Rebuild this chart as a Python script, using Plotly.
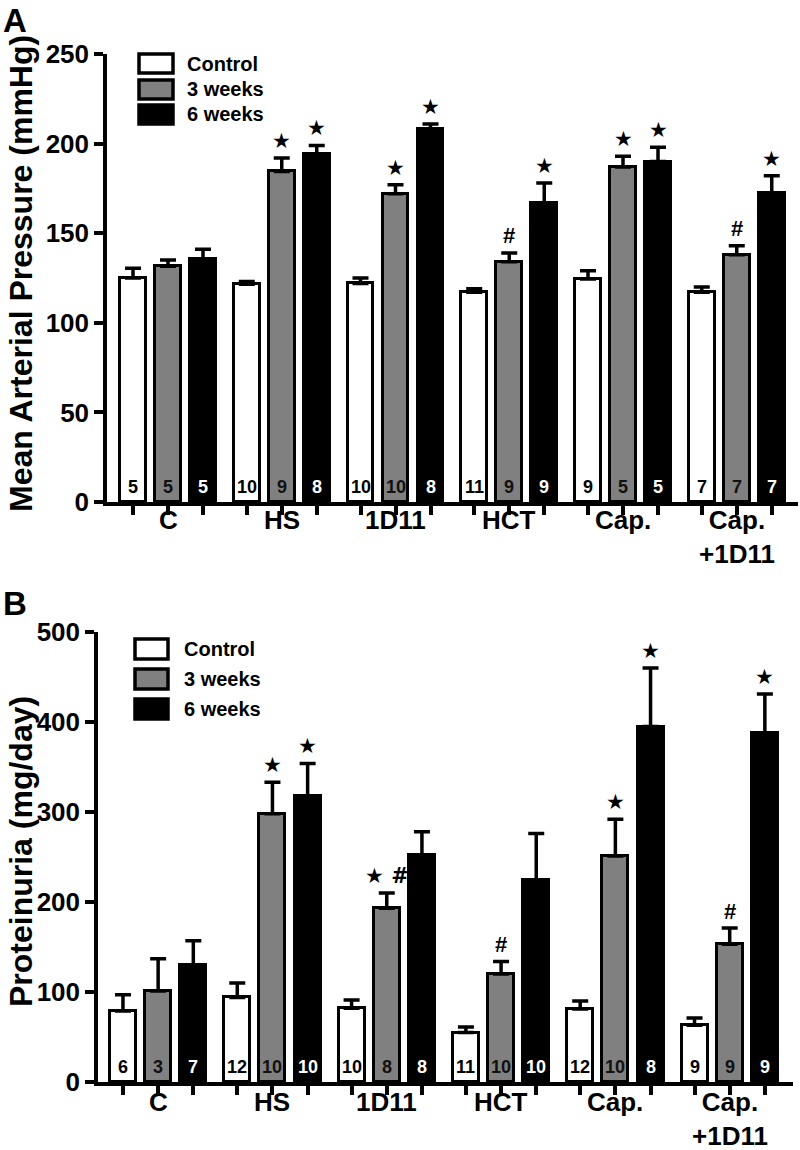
import plotly.graph_objects as go

# ---------------- data ----------------
groups = ["C", "HS", "1D11", "HCT", "Cap.", "Cap.<br>+1D11"]
series = ["Control", "3 weeks", "6 weeks"]

# Panel A: Mean arterial pressure (mmHg)
map_control = [125, 121.5, 122, 117, 124.5, 117]
map_3wk = [131.5, 184.5, 172, 134, 187, 138]
map_6wk = [135.5, 194, 208, 167, 190, 172.5]
map_control_err = [5.5, 1.5, 3, 2, 4.5, 3]
map_3wk_err = [3.5, 7.5, 5, 5, 6, 5]
map_6wk_err = [5.5, 5, 3, 11, 8, 9.5]
map_n_control = [5, 10, 10, 11, 9, 7]
map_n_3wk = [5, 9, 10, 9, 5, 7]
map_n_6wk = [5, 8, 8, 9, 5, 7]
map_sig_control = ["", "", "", "", "", ""]
map_sig_3wk = ["", "★", "★", "#", "★", "#"]
map_sig_6wk = ["", "★", "★", "★", "★", "★"]

# Panel B: Proteinuria (mg/day)
prot_control = [79, 94, 82, 55, 81, 63]
prot_3wk = [101, 298, 193, 120, 251, 153]
prot_6wk = [130, 318, 252, 224, 395, 388]
prot_control_err = [18, 16, 9, 6, 9, 8]
prot_3wk_err = [36, 35, 17, 14, 41, 18]
prot_6wk_err = [27, 36, 26, 52, 65, 43]
prot_n_control = [6, 12, 10, 11, 12, 9]
prot_n_3wk = [3, 10, 8, 10, 10, 9]
prot_n_6wk = [7, 10, 8, 10, 8, 9]
prot_sig_control = ["", "", "", "", "", ""]
prot_sig_3wk = ["", "★", "★ #", "#", "★", "#"]
prot_sig_6wk = ["", "★", "", "", "★", "★"]

map_ticks = [0, 50, 100, 150, 200, 250]
prot_ticks = [0, 100, 200, 300, 400, 500]

# ---------------- style ----------------
FONT = "Liberation Sans, Arial, sans-serif"
STAR_FONT = "DejaVu Sans, Liberation Sans, sans-serif"
fill_colors = ["#ffffff", "#808080", "#000000"]
n_colors = ["#000000", "#111111", "#ffffff"]
GROUP_STEP = 3.25
BAR_W = 0.74
W, H = 800, 1150


def xpos(g, j):
    return g * GROUP_STEP + j


def py(pix):
    return 1 - pix / H


fig = go.Figure()

panels = [
    dict(xa="x", ya="y",
         means=[map_control, map_3wk, map_6wk],
         errs=[map_control_err, map_3wk_err, map_6wk_err],
         ns=[map_n_control, map_n_3wk, map_n_6wk],
         sigs=[map_sig_control, map_sig_3wk, map_sig_6wk]),
    dict(xa="x2", ya="y2",
         means=[prot_control, prot_3wk, prot_6wk],
         errs=[prot_control_err, prot_3wk_err, prot_6wk_err],
         ns=[prot_n_control, prot_n_3wk, prot_n_6wk],
         sigs=[prot_sig_control, prot_sig_3wk, prot_sig_6wk]),
]

annotations = []
for p in panels:
    for j, s in enumerate(series):
        xs = [xpos(g, j) for g in range(len(groups))]
        fig.add_trace(go.Bar(
            x=xs, y=p["means"][j], width=BAR_W, name=s,
            marker=dict(color=fill_colors[j], line=dict(color="black", width=3)),
            error_y=dict(type="data", symmetric=False, array=p["errs"][j],
                         arrayminus=[0] * len(xs), color="black",
                         thickness=3.5, width=8),
            xaxis=p["xa"], yaxis=p["ya"], showlegend=False,
        ))
        for g in range(len(groups)):
            annotations.append(dict(
                x=xs[g], y=0, xref=p["xa"], yref=p["ya"],
                text=str(p["ns"][j][g]), showarrow=False,
                yanchor="bottom", yshift=3,
                font=dict(family=FONT, size=18, color=n_colors[j], weight="bold")))
            sig = p["sigs"][j][g]
            if sig:
                top = p["means"][j][g] + p["errs"][j][g]
                is_hash = sig == "#"
                annotations.append(dict(
                    x=xs[g], y=top, xref=p["xa"], yref=p["ya"],
                    text=sig, showarrow=False, yanchor="middle",
                    yshift=17,
                    font=dict(family=FONT if is_hash else STAR_FONT,
                              size=22 if is_hash else 21,
                              color="black", weight="bold")))

axis_common = dict(showline=True, linecolor="black", linewidth=3.5,
                   ticks="outside", tickcolor="black", tickwidth=3.5, ticklen=9,
                   showgrid=False, zeroline=False, automargin=False)

fig.update_layout(
    width=W, height=H, margin=dict(l=0, r=0, t=0, b=0, pad=0, autoexpand=False),
    paper_bgcolor="white", plot_bgcolor="white",
    barmode="overlay", bargap=0, showlegend=False,
    xaxis=dict(domain=[107 / W, 798 / W], range=[-0.743, 19.0], anchor="y",
               tickvals=[xpos(g, j) for g in range(6) for j in range(3)],
               showticklabels=False, **axis_common),
    yaxis=dict(domain=[py(502), py(54)], range=[0, 250], anchor="x",
               tickvals=map_ticks,
               tickfont=dict(family=FONT, size=26, color="black", weight="bold"),
               **axis_common),
    xaxis2=dict(domain=[98 / W, 793 / W], range=[-0.71, 19.05], anchor="y2",
                tickvals=[xpos(g, j) for g in range(6) for j in range(3)],
                showticklabels=False, **axis_common),
    yaxis2=dict(domain=[py(1082), py(632)], range=[0, 500], anchor="x2",
                tickvals=prot_ticks,
                tickfont=dict(family=FONT, size=26, color="black", weight="bold"),
                **axis_common),
)

# group labels
for g, name in enumerate(groups):
    annotations.append(dict(x=xpos(g, 1), y=py(503), xref="x", yref="paper",
                            text=name, showarrow=False, yanchor="top",
                            font=dict(family=FONT, size=26, color="black", weight="bold")))
    annotations.append(dict(x=xpos(g, 1), y=py(1085), xref="x2", yref="paper",
                            text=name, showarrow=False, yanchor="top",
                            font=dict(family=FONT, size=26, color="black", weight="bold")))

# axis titles
annotations.append(dict(x=21 / W, y=py(274), xref="paper", yref="paper",
                        text="Mean Arterial Pressure (mmHg)", textangle=-90,
                        showarrow=False, xanchor="center", yanchor="middle",
                        font=dict(family=FONT, size=32, color="black", weight="bold")))
annotations.append(dict(x=21 / W, y=py(852), xref="paper", yref="paper",
                        text="Proteinuria (mg/day)", textangle=-90,
                        showarrow=False, xanchor="center", yanchor="middle",
                        font=dict(family=FONT, size=32, color="black", weight="bold")))

# panel letters
annotations.append(dict(x=1 / W, y=py(0), xref="paper", yref="paper", text="A",
                        showarrow=False, xanchor="left", yanchor="top",
                        font=dict(family=FONT, size=33, color="black", weight="bold")))
annotations.append(dict(x=1 / W, y=py(583), xref="paper", yref="paper", text="B",
                        showarrow=False, xanchor="left", yanchor="top",
                        font=dict(family=FONT, size=33, color="black", weight="bold")))

# legends (drawn as boxes + text)
shapes = []
legend_boxes = [
    (139, 173, [(54, 73), (80, 99), (105, 124)], 185),
    (135, 168, [(639, 659), (669, 689), (699, 719)], 182),
]
for x0, x1, ys, tx in legend_boxes:
    for j, (y0, y1) in enumerate(ys):
        shapes.append(dict(type="rect", xref="paper", yref="paper",
                           x0=x0 / W, x1=x1 / W, y0=py(y1), y1=py(y0),
                           line=dict(color="black", width=3.5),
                           fillcolor=fill_colors[j]))
        annotations.append(dict(x=tx / W, y=py((y0 + y1) / 2), xref="paper", yref="paper",
                                text=series[j], showarrow=False,
                                xanchor="left", yanchor="middle",
                                font=dict(family=FONT, size=20, color="black", weight="bold")))

fig.update_layout(annotations=annotations, shapes=shapes)
fig.write_html("out.html",
               config={"displayModeBar": False},
               post_script="document.body.style.margin='0';"
                           "document.body.style.overflow='hidden';")
